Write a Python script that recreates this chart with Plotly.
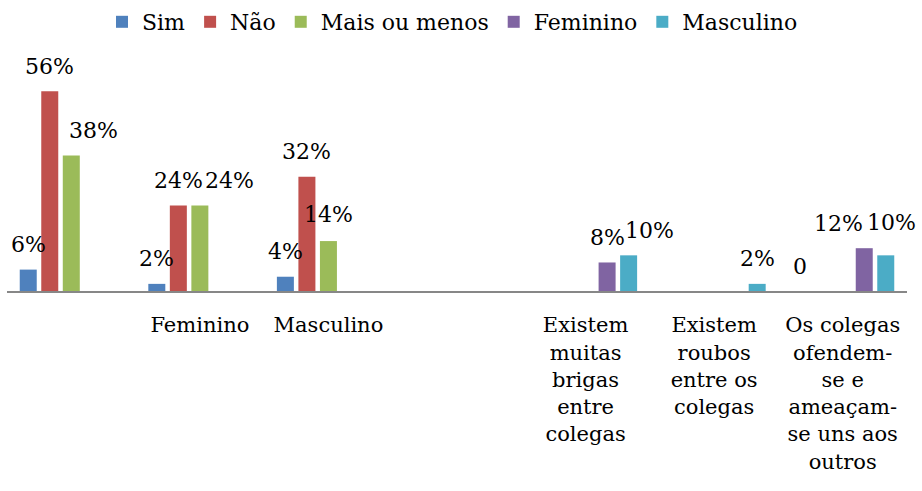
import plotly.graph_objects as go

# ---- data ----
categories = [
    "",
    "Feminino",
    "Masculino",
    "",
    "Existem<br>muitas<br>brigas<br>entre<br>colegas",
    "Existem<br>roubos<br>entre os<br>colegas",
    "Os colegas<br>ofendem-<br>se e<br>ameaçam-<br>se uns aos<br>outros",
]
series_names = ["Sim", "Não", "Mais ou menos", "Feminino", "Masculino"]
sim = [0.06, 0.02, 0.04, None, None, None, 0.0]
nao = [0.56, 0.24, 0.32, None, None, None, None]
mais_ou_menos = [0.38, 0.24, 0.14, None, None, None, None]
feminino = [None, None, None, None, 0.08, None, 0.12]
masculino = [None, None, None, None, 0.10, 0.02, 0.10]
label_sim = ["6%", "2%", "4%", None, None, None, "0"]
label_nao = ["56%", "24%", "32%", None, None, None, None]
label_mais = ["38%", "24%", "14%", None, None, None, None]
label_fem = [None, None, None, None, "8%", None, "12%"]
label_masc = [None, None, None, None, "10%", "2%", "10%"]

values = [sim, nao, mais_ou_menos, feminino, masculino]
labels = [label_sim, label_nao, label_mais, label_fem, label_masc]
colors = ["#4F81BD", "#C0504D", "#9BBB59", "#8064A2", "#4BACC6"]

# label nudges (px) to mimic the manually moved data labels
label_dx = {(2, 0): 22, (2, 1): 30, (3, 6): -26, (4, 4): 21, (4, 6): 6}
label_dy = {(4, 6): 33, (2, 2): 27}

FONT = "DejaVu Serif"
W, H = 922, 491
ml, mr, mt, mb = 7, 15, 77, 200
bargap = 0.163
n_series = len(series_names)
slot = (1 - bargap) / n_series
px_per_unit = (W - ml - mr) / len(categories)
plot_h = H - mt - mb

fig = go.Figure()
xs = list(range(len(categories)))
for k, (name, vals, col) in enumerate(zip(series_names, values, colors)):
    fig.add_trace(go.Bar(
        name=name, x=xs, y=vals, marker=dict(color=col, line=dict(width=0)),
        hoverinfo="skip",
    ))

annotations = []
for k in range(n_series):
    for i, (v, t) in enumerate(zip(values[k], labels[k])):
        if t is None or v is None:
            continue
        dx = label_dx.get((k, i), 0) / px_per_unit
        annotations.append(dict(
            x=i + (k - (n_series - 1) / 2) * slot + dx, y=v, xref="x", yref="y",
            text=t, showarrow=False, yanchor="middle", xanchor="center",
            yshift=label_dy.get((k, i), 25),
            font=dict(family=FONT, size=22, color="#000000"),
        ))

fig.update_layout(
    width=W, height=H,
    margin=dict(l=ml, r=mr, t=mt, b=mb, autoexpand=False),
    paper_bgcolor="white", plot_bgcolor="white",
    barmode="group", bargap=bargap, bargroupgap=0.21,
    showlegend=True,
    legend=dict(orientation="h", x=0.495, xanchor="center",
                y=1 + 55 / plot_h, yanchor="middle",
                font=dict(family=FONT, size=22, color="#000000"),
                itemclick=False, traceorder="normal"),
    annotations=annotations,
    xaxis=dict(range=[-0.5, len(categories) - 0.5], tickvals=xs, ticktext=categories,
               showline=True, linecolor="#878787", linewidth=2, ticks="",
               showgrid=False, zeroline=False, automargin=False,
               ticklabelstandoff=14,
               tickfont=dict(family=FONT, size=21, color="#000000")),
    yaxis=dict(range=[0, 0.6], visible=False, showgrid=False, zeroline=False,
               automargin=False),
)

fig.write_html(
    "out.html",
    config={"displayModeBar": False},
    post_script="document.body.style.margin='0';document.body.style.padding='0';"
                "document.body.style.overflow='hidden';",
)
